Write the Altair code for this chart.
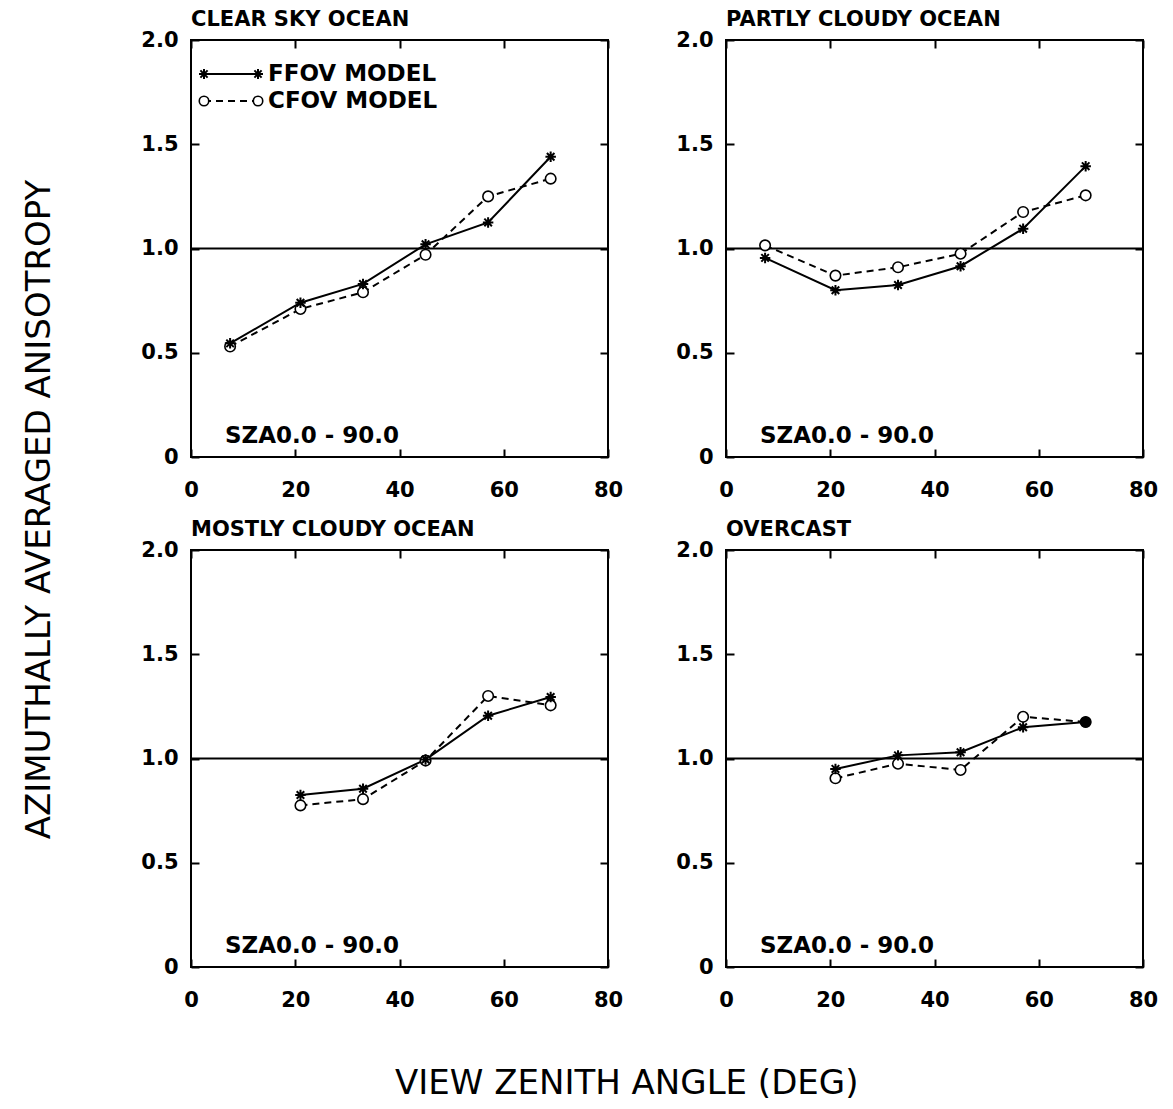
import altair as alt
import pandas as pd

# ---------------- data ----------------
PANEL_TITLES = ["CLEAR SKY OCEAN", "PARTLY CLOUDY OCEAN",
                "MOSTLY CLOUDY OCEAN", "OVERCAST"]
VZA_FULL = [7.5, 21, 33, 45, 57, 69]
VZA_CLOUDY = [21, 33, 45, 57, 69]

ffov_clear = [0.545, 0.74, 0.83, 1.02, 1.125, 1.44]
cfov_clear = [0.53, 0.71, 0.79, 0.97, 1.25, 1.335]
ffov_partly = [0.955, 0.80, 0.825, 0.915, 1.095, 1.395]
cfov_partly = [1.015, 0.87, 0.91, 0.975, 1.175, 1.255]
ffov_mostly = [0.825, 0.855, 0.995, 1.205, 1.295]
cfov_mostly = [0.775, 0.805, 0.99, 1.30, 1.255]
ffov_overcast = [0.95, 1.015, 1.03, 1.15, 1.175]
cfov_overcast = [0.905, 0.975, 0.945, 1.20, 1.175]

X_TICKS = [0, 20, 40, 60, 80]
Y_TICKS = [0, 0.5, 1.0, 1.5, 2.0]
REF_LEVEL = 1.0
SZA_LABEL = "SZA0.0 - 90.0"
LEGEND_LABELS = ["FFOV MODEL", "CFOV MODEL"]
X_TITLE = "VIEW ZENITH ANGLE (DEG)"
Y_TITLE = "AZIMUTHALLY AVERAGED ANISOTROPY"

# ---------------- styling ----------------
FONT = "DejaVu Sans"
STAR = "M-1,0L1,0M0,-1L0,1M-0.72,-0.72L0.72,0.72M-0.72,0.72L0.72,-0.72"
PW, PH = 417, 417
TICK = 8


def panel(title, vza, ffov, cfov, legend=False):
    df = pd.DataFrame({"vza": vza, "ffov": ffov, "cfov": cfov})
    xs = alt.Scale(domain=[0, 80], nice=False, zero=False)
    ys = alt.Scale(domain=[0, 2], nice=False)

    def X(field="vza:Q"):
        return alt.X(field, scale=xs, axis=None)

    def Y(field):
        return alt.Y(field, scale=ys, axis=None)

    x_bottom = alt.X("vza:Q", scale=xs, title=None,
                     axis=alt.Axis(orient="bottom", values=X_TICKS, offset=-TICK,
                                   tickSize=TICK, domain=False, labelPadding=22,
                                   labelFlush=False, labelOverlap=False, grid=False))
    y_left = alt.Y("ffov:Q", scale=ys, title=None,
                   axis=alt.Axis(orient="left", values=Y_TICKS, offset=-TICK,
                                 tickSize=TICK, domain=False, labelPadding=13,
                                 labelFlush=False, labelOverlap=False, grid=False,
                                 labelExpr="datum.value == 0 ? '0' : format(datum.value, '.1f')"))
    x_top = alt.X("vza:Q", scale=xs, title=None,
                  axis=alt.Axis(orient="top", values=X_TICKS, offset=-TICK,
                                tickSize=TICK, domain=False, labels=False, grid=False))
    y_right = alt.Y("ffov:Q", scale=ys, title=None,
                    axis=alt.Axis(orient="right", values=Y_TICKS, offset=-TICK,
                                  tickSize=TICK, domain=False, labels=False, grid=False))

    base = alt.Chart(df)
    ffov_line = base.mark_line(color="black", strokeWidth=2).encode(x=x_bottom, y=y_left)
    frame = base.mark_point(opacity=0).encode(x=x_top, y=y_right)
    cfov_line = base.mark_line(color="black", strokeWidth=2, strokeDash=[7, 5]).encode(
        x=X(), y=Y("cfov:Q"))
    cfov_pts = base.mark_point(shape="circle", size=110, filled=True, fill="white",
                               stroke="black", strokeWidth=1.6, opacity=1).encode(
        x=X(), y=Y("cfov:Q"))
    ffov_pts = base.mark_point(shape=STAR, size=110, filled=False, stroke="black",
                               strokeWidth=2, opacity=1).encode(
        x=X(), y=Y("ffov:Q"))
    same_pts = base.transform_filter("abs(datum.ffov - datum.cfov) < 0.004").mark_point(
        shape="circle", size=120, filled=True, color="black", opacity=1).encode(
        x=X(), y=Y("ffov:Q"))

    ref = alt.Chart(pd.DataFrame({"level": [REF_LEVEL]})).mark_rule(
        color="black", strokeWidth=2).encode(y=Y("level:Q"))

    sza = alt.Chart(pd.DataFrame({"label": [SZA_LABEL]})).mark_text(
        align="left", baseline="middle", font=FONT, fontSize=23, fontWeight="bold",
        color="black").encode(x=alt.value(34), y=alt.value(396), text="label:N")

    layers = [ref, cfov_line, ffov_line, cfov_pts, ffov_pts, same_pts, frame, sza]

    if legend:
        one = pd.DataFrame({"label": [LEGEND_LABELS[0]]})
        two = pd.DataFrame({"label": [LEGEND_LABELS[1]]})
        ly1, ly2, lx1, lx2, ltx = 34, 61, 13, 67, 77
        layers += [
            alt.Chart(one).mark_rule(color="black", strokeWidth=2).encode(
                x=alt.value(lx1), x2=alt.value(lx2), y=alt.value(ly1)),
            alt.Chart(one).mark_point(shape=STAR, size=100, filled=False, stroke="black",
                                      strokeWidth=2, opacity=1).encode(
                x=alt.value(lx1), y=alt.value(ly1)),
            alt.Chart(one).mark_point(shape=STAR, size=100, filled=False, stroke="black",
                                      strokeWidth=2, opacity=1).encode(
                x=alt.value(lx2), y=alt.value(ly1)),
            alt.Chart(one).mark_text(align="left", baseline="middle", font=FONT,
                                     fontSize=23, fontWeight="bold", color="black").encode(
                x=alt.value(ltx), y=alt.value(ly1), text="label:N"),
            alt.Chart(two).mark_rule(color="black", strokeWidth=2, strokeDash=[7, 5]).encode(
                x=alt.value(lx1), x2=alt.value(lx2), y=alt.value(ly2)),
            alt.Chart(two).mark_point(shape="circle", size=90, filled=True, fill="white",
                                      stroke="black", strokeWidth=1.6, opacity=1).encode(
                x=alt.value(lx1), y=alt.value(ly2)),
            alt.Chart(two).mark_point(shape="circle", size=90, filled=True, fill="white",
                                      stroke="black", strokeWidth=1.6, opacity=1).encode(
                x=alt.value(lx2), y=alt.value(ly2)),
            alt.Chart(two).mark_text(align="left", baseline="middle", font=FONT,
                                     fontSize=23, fontWeight="bold", color="black").encode(
                x=alt.value(ltx), y=alt.value(ly2), text="label:N"),
        ]

    return alt.layer(*layers).properties(
        width=PW, height=PH,
        title=alt.TitleParams(title, anchor="start", frame="group", font=FONT,
                              fontSize=21, fontWeight="bold", color="black", offset=-1),
    )


p1 = panel(PANEL_TITLES[0], VZA_FULL, ffov_clear, cfov_clear, legend=True)
p2 = panel(PANEL_TITLES[1], VZA_FULL, ffov_partly, cfov_partly)
p3 = panel(PANEL_TITLES[2], VZA_CLOUDY, ffov_mostly, cfov_mostly)
p4 = panel(PANEL_TITLES[3], VZA_CLOUDY, ffov_overcast, cfov_overcast)

grid = alt.vconcat(
    alt.hconcat(p1, p2, spacing=50),
    alt.hconcat(p3, p4, spacing=50),
    spacing=17,
).properties(
    title=alt.TitleParams(Y_TITLE, orient="left", anchor="middle", font=FONT,
                          fontSize=34, fontWeight="normal", color="black", offset=83)
)

chart = alt.hconcat(grid).properties(
    title=alt.TitleParams(X_TITLE, orient="bottom", anchor="middle", font=FONT,
                          fontSize=34, fontWeight="normal", color="black", offset=56,
                          dx=36),
    padding={"left": 14, "top": 0, "right": 5, "bottom": 5},
).configure_view(stroke="black", strokeWidth=2).configure_axis(
    tickColor="black", tickWidth=2, labelColor="black", labelFont=FONT,
    labelFontSize=21, labelFontWeight="bold", grid=False,
).configure_concat(spacing=0)

chart.save("out.html", embed_options={"renderer": "svg", "actions": False})
